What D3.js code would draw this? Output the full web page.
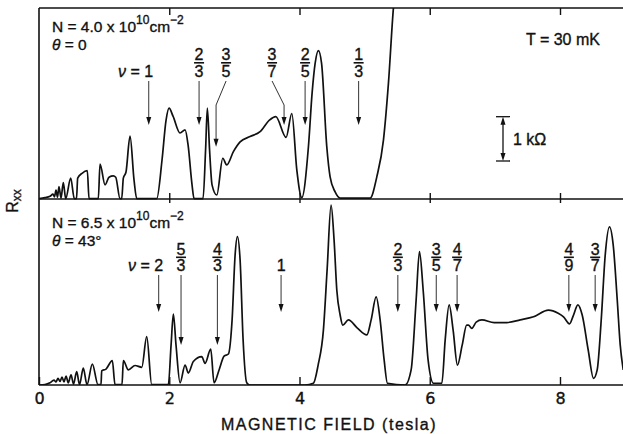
<!DOCTYPE html>
<html>
<head>
<meta charset="utf-8">
<script src="https://cdn.jsdelivr.net/npm/d3@7"></script>
<style>
body { margin: 0; background: #fff; }
svg { display: block; font-family: "Liberation Sans", Arial, sans-serif; }
svg text { stroke: #111; stroke-width: 0.35px; }
</style>
</head>
<body>
<div id="chart"></div>
<script>
// upper trace: N = 4.0e10 cm^-2, theta = 0  (field in tesla, Rxx in kOhm)
var topField = [0, 0.092, 0.169, 0.215, 0.238, 0.261, 0.284, 0.307, 0.338, 0.373, 0.410, 0.487, 0.542, 0.576, 0.594, 0.661, 0.742, 0.768, 0.911, 0.937, 1.014, 1.075, 1.141, 1.178, 1.244, 1.270, 1.295, 1.336, 1.398, 1.459, 1.501, 1.808, 1.889, 1.951, 1.997, 2.058, 2.166, 2.243, 2.289, 2.350, 2.381, 2.519, 2.558, 2.585, 2.619, 2.657, 2.730, 2.822, 2.883, 2.985, 3.088, 3.241, 3.395, 3.538, 3.636, 3.794, 3.882, 3.959, 4.035, 4.137, 4.194, 4.240, 4.290, 4.339, 4.419, 4.470, 4.547, 4.624, 5.084, 5.187, 5.289, 5.366, 5.442, 5.484];
var topRxx = [0.01, 0.03, 0.06, 0.11, 0.05, 0.20, 0.04, 0.28, 0.02, 0.37, 0.01, 0.47, 0.01, 0.01, 0.47, 0.58, 0.64, 0.01, 0.01, 0.79, 0.32, 0.49, 0.52, 0.49, 0.01, 0.01, 0.47, 0.61, 1.42, 0.43, 0.01, 0.01, 0.88, 1.78, 2.05, 1.87, 1.49, 1.56, 1.22, 0.32, 0.01, 0.01, 1.11, 2.05, 1.11, 0.32, 0.09, 0.92, 0.77, 1.07, 1.29, 1.41, 1.52, 1.78, 1.86, 1.39, 1.93, 0.65, 0.03, 1.18, 2.40, 3.06, 3.35, 3.06, 1.18, 0.50, 0.16, 0.02, 0.02, 0.50, 1.33, 2.62, 4.31, 4.94];

// lower trace: N = 6.5e10 cm^-2, theta = 43 deg
var botField = [0, 0.092, 0.169, 0.230, 0.261, 0.292, 0.323, 0.353, 0.384, 0.415, 0.450, 0.492, 0.530, 0.579, 0.622, 0.680, 0.737, 0.819, 0.906, 0.952, 0.963, 1.029, 1.126, 1.167, 1.275, 1.295, 1.372, 1.475, 1.578, 1.654, 1.731, 1.986, 2.028, 2.063, 2.104, 2.166, 2.243, 2.293, 2.370, 2.499, 2.550, 2.637, 2.688, 2.765, 2.842, 2.908, 2.965, 3.011, 3.046, 3.088, 3.134, 3.190, 3.241, 4.086, 4.213, 4.286, 4.367, 4.424, 4.485, 4.531, 4.573, 4.624, 4.665, 4.751, 4.885, 5.034, 5.100, 5.177, 5.238, 5.300, 5.350, 5.622, 5.714, 5.791, 5.842, 5.899, 5.975, 6.057, 6.186, 6.237, 6.298, 6.359, 6.425, 6.498, 6.567, 6.594, 6.646, 6.713, 6.800, 6.989, 7.184, 7.389, 7.593, 7.823, 7.972, 8.054, 8.146, 8.203, 8.275, 8.341, 8.433, 8.515, 8.571, 8.633, 8.694, 8.760, 8.817, 8.879, 8.925, 8.971];
var botRxx = [0, 0.01, 0.05, 0.11, 0.07, 0.15, 0.08, 0.18, 0.07, 0.20, 0.05, 0.23, 0.02, 0.30, 0.01, 0.38, 0.01, 0.47, 0.01, 0.01, 0.32, 0.36, 0.55, 0.01, 0.01, 0.55, 0.34, 0.44, 0.40, 1.09, 0.01, 0.01, 0.90, 1.60, 0.90, 0.05, 0.45, 0.27, 0.53, 0.64, 0.49, 0.81, 0.05, 0.34, 0.65, 0.70, 1.47, 2.93, 3.35, 2.82, 1.02, 0.05, 0, 0, 0.04, 0.45, 1.24, 2.60, 4.06, 3.27, 2.14, 1.58, 1.35, 1.47, 1.29, 1.13, 1.47, 1.99, 1.47, 0.56, 0.04, 0, 0.34, 1.92, 3.01, 2.14, 0.56, 0.04, 0.04, 1.02, 1.81, 1.24, 0.45, 0.90, 1.35, 1.35, 1.28, 1.42, 1.47, 1.41, 1.41, 1.47, 1.54, 1.69, 1.62, 1.54, 1.38, 1.56, 1.81, 1.58, 0.79, 0.15, 0.34, 1.47, 2.93, 3.57, 3.16, 1.92, 0.90, 0.34];

var xTicks = [0, 2, 4, 6, 8];

// filling factors marked with arrows, and the field they point at
var topNu = ["1", "2/3", "3/5", "3/7", "2/5", "1/3"];
var topNuField = [1.685, 2.458, 2.719, 3.763, 4.086, 4.908];
var botNu = ["2", "5/3", "4/3", "1", "2/3", "3/5", "4/7", "4/9", "3/7"];
var botNuField = [1.838, 2.181, 2.739, 3.717, 5.51, 6.10, 6.42, 8.136, 8.54];

var svgWidth = 623;
var svgHeight = 434;

var left = 39, right = 623;
var topY = 8, midY = 199, botY = 385;
var kOhm = 44.3; // px per kOhm, from the scale bar

var svg = d3.select("#chart")
    .append("svg")
    .attr("width", svgWidth)
    .attr("height", svgHeight);

var x = d3.scaleLinear().domain([0, 8]).range([left, 560]);
var yTop = d3.scaleLinear().domain([0, 1]).range([midY, midY - kOhm]);
var yBot = d3.scaleLinear().domain([0, 1]).range([botY, botY - kOhm]);

svg.append("defs").append("clipPath")
    .attr("id", "plot")
    .append("rect")
    .attr("x", left).attr("y", topY)
    .attr("width", right - left).attr("height", botY - topY);

var ink = "#111";

// traces
function drawTrace(field, rxx, y) {
    var line = d3.line()
        .x(d => x(d[0]))
        .y(d => y(d[1]))
        .curve(d3.curveMonotoneX);
    svg.append("path")
        .datum(d3.zip(field, rxx))
        .attr("clip-path", "url(#plot)")
        .attr("d", line)
        .attr("fill", "none")
        .attr("stroke", ink)
        .attr("stroke-width", 1.7)
        .attr("stroke-linejoin", "round");
}
drawTrace(topField, topRxx, yTop);
drawTrace(botField, botRxx, yBot);

// frame lines
var frame = svg.append("g").attr("stroke", ink).attr("stroke-width", 1.6);
frame.append("line").attr("x1", left).attr("x2", left).attr("y1", topY).attr("y2", botY);
[topY, midY, botY].forEach(function(yy) {
    frame.append("line").attr("x1", left).attr("x2", right).attr("y1", yy).attr("y2", yy);
});

// ticks: bottom axis with labels, inward ticks elsewhere
var bottomAxis = d3.axisBottom(x).tickValues(xTicks).tickSizeInner(-8).tickSizeOuter(0).tickPadding(8);
var gb = svg.append("g").attr("transform", `translate(0, ${botY})`).call(bottomAxis);
var gt = svg.append("g").attr("transform", `translate(0, ${topY})`)
    .call(d3.axisTop(x).tickValues([2, 4, 6, 8]).tickSizeInner(-7).tickSizeOuter(0).tickFormat(""));
var gm1 = svg.append("g").attr("transform", `translate(0, ${midY})`)
    .call(d3.axisTop(x).tickValues([2, 4, 6, 8]).tickSizeInner(6).tickSizeOuter(0).tickFormat(""));
var gm2 = svg.append("g").attr("transform", `translate(0, ${midY})`)
    .call(d3.axisBottom(x).tickValues([2, 4, 6, 8]).tickSizeInner(4).tickSizeOuter(0).tickFormat(""));
[gb, gt, gm1, gm2].forEach(function(g) {
    g.select(".domain").remove();
    g.selectAll("line").attr("stroke", ink).attr("stroke-width", 1.4);
});
gb.selectAll("text")
    .attr("font-family", "DejaVu Sans, sans-serif")
    .attr("font-size", "16px")
    .attr("fill", ink);

// arrows with filling factor labels
var labelShift = { top: { "3/5": 10, "3/7": -12 }, bottom: {} };

function drawArrows(names, fields, panel, numY, barY, denY, startY, tipY, longTip, longNames) {
    var g = svg.append("g").attr("fill", ink).attr("font-size", "16px");
    names.forEach(function(name, i) {
        var tx = x(fields[i]);
        var lx = tx + (labelShift[panel][name] || 0);
        var ty = longNames.indexOf(name) >= 0 ? longTip : tipY;
        var parts = name.split("/");
        if (parts.length == 2) {
            g.append("text").attr("x", lx).attr("y", numY).attr("text-anchor", "middle").text(parts[0]);
            g.append("line").attr("x1", lx - 5).attr("x2", lx + 5).attr("y1", barY).attr("y2", barY)
                .attr("stroke", ink).attr("stroke-width", 1.6);
            g.append("text").attr("x", lx).attr("y", denY).attr("text-anchor", "middle").text(parts[1]);
        } else {
            var t = g.append("text").attr("x", lx + 4.5).attr("y", denY).attr("text-anchor", "end");
            if (i == 0) t.append("tspan").attr("font-style", "italic").text("\u03bd");
            t.append("tspan").text(i == 0 ? " = " + name : name);
        }
        var pts = [[lx, startY]];
        if (lx != tx) pts.push([tx, startY + 24]);
        pts.push([tx, ty - 7]);
        g.append("path")
            .attr("d", d3.line()(pts))
            .attr("fill", "none")
            .attr("stroke", "#333")
            .attr("stroke-width", 1);
        g.append("path")
            .attr("d", `M${tx},${ty} L${tx - 2.5},${ty - 8} L${tx + 2.5},${ty - 8} Z`);
    });
}
drawArrows(topNu, topNuField, "top", 60, 62.8, 76.6, 81, 125, 146.7, ["3/5"]);
drawArrows(botNu, botNuField, "bottom", 254.5, 257.3, 270.8, 275, 312, 345, ["5/3", "4/3"]);

// panel captions
function caption(yy, density, angle) {
    var t = svg.append("text").attr("x", 52).attr("y", yy).attr("font-size", "15.5px").attr("fill", ink);
    t.append("tspan").text("N = " + density + " x 10");
    t.append("tspan").attr("font-size", "12px").attr("dy", -8).text("10");
    t.append("tspan").attr("dy", 8).text("cm");
    t.append("tspan").attr("font-size", "12px").attr("dy", -8).text("\u22122");
    var a = svg.append("text").attr("x", 52).attr("y", yy + 17.5).attr("font-size", "15.5px").attr("fill", ink);
    a.append("tspan").attr("font-style", "italic").text("\u03b8");
    a.append("tspan").text(" = " + angle);
}
caption(32, "4.0", "0");
caption(228, "6.5", "43\u00b0");

svg.append("text").attr("x", 526).attr("y", 45).attr("font-size", "16px").attr("fill", ink)
    .text("T = 30 mK");

// 1 kOhm scale bar
var barX = 503, barBot = 161;
var barTop = yTop(yTop.invert(barBot) + 1);
var sb = svg.append("g").attr("stroke", ink).attr("stroke-width", 1.3);
sb.append("line").attr("x1", barX).attr("x2", barX).attr("y1", barTop + 6).attr("y2", barBot - 6);
sb.append("line").attr("x1", barX - 7).attr("x2", barX + 7).attr("y1", barTop).attr("y2", barTop);
sb.append("line").attr("x1", barX - 7).attr("x2", barX + 7).attr("y1", barBot).attr("y2", barBot);
svg.append("path").attr("fill", ink)
    .attr("d", `M${barX},${barTop} L${barX - 2.5},${barTop + 8} L${barX + 2.5},${barTop + 8} Z M${barX},${barBot} L${barX - 2.5},${barBot - 8} L${barX + 2.5},${barBot - 8} Z`);
svg.append("text").attr("x", 513).attr("y", 145).attr("font-size", "16px").attr("fill", ink)
    .text("1 k\u03a9");

// axis titles
svg.append("text")
    .attr("x", 329).attr("y", 430)
    .attr("text-anchor", "middle")
    .attr("font-size", "16px")
    .attr("letter-spacing", "1.5px")
    .attr("fill", ink)
    .text("MAGNETIC FIELD (tesla)");

var yl = svg.append("text")
    .attr("transform", "translate(18, 201) rotate(-90)")
    .attr("text-anchor", "middle")
    .attr("font-size", "16px")
    .attr("fill", ink);
yl.append("tspan").text("R");
yl.append("tspan").attr("font-size", "12px").attr("dy", 3).text("xx");
</script>
</body>
</html>
